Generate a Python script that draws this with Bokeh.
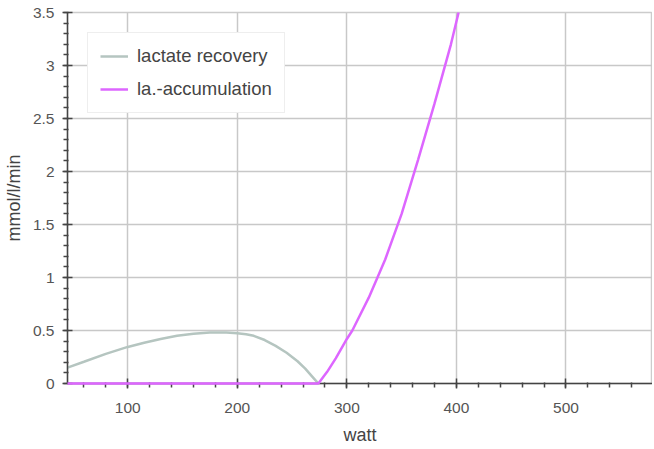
from bokeh.plotting import figure
from bokeh.models import SingleIntervalTicker, CustomJSTickFormatter, Range1d, Legend, LegendItem
from bokeh.embed import file_html
from bokeh.resources import INLINE

# data
rec_watt = [45, 60, 80, 100, 115, 130, 145, 160, 175, 190, 200, 208, 215, 225, 235, 245, 255, 262, 268, 274]
rec_val = [0.15, 0.205, 0.28, 0.345, 0.385, 0.42, 0.45, 0.47, 0.48, 0.48, 0.475, 0.465, 0.45, 0.41,
           0.355, 0.29, 0.21, 0.14, 0.07, 0.0]
acc_watt = [45, 274, 282, 290, 300, 305, 320, 335, 350, 365, 380, 395, 402]
acc_val = [0.0, 0.0, 0.11, 0.24, 0.42, 0.5, 0.81, 1.17, 1.6, 2.11, 2.64, 3.2, 3.5]
x_label = "watt"
y_label = "mmol/l/min"
series_names = ["lactate recovery", "la.-accumulation"]

FONT = "Liberation Sans"

p = figure(width=652, height=447, output_backend="svg", toolbar_location=None,
           x_range=Range1d(45, 579), y_range=Range1d(0, 3.5),
           min_border_left=66, min_border_right=0, min_border_top=12, min_border_bottom=10)

p.outline_line_color = "#cccccc"
p.outline_line_width = 1.5

r1 = p.line(rec_watt, rec_val, line_color="#b5c5c0", line_width=2.5)
r2 = p.line(acc_watt, acc_val, line_color="#dd66ff", line_width=2.5)
r2.level = "overlay"

for ax, iv in ((p.xaxis[0], 100), (p.yaxis[0], 0.5)):
    ax.ticker = SingleIntervalTicker(interval=iv, num_minor_ticks=5)
    ax.axis_line_color = "#444444"
    ax.axis_line_width = 1.5
    ax.major_tick_line_color = "#444444"
    ax.major_tick_line_width = 1.5
    ax.minor_tick_line_color = "#444444"
    ax.minor_tick_line_width = 1.5
    ax.major_tick_in = 5
    ax.major_tick_out = 5
    ax.minor_tick_in = 1
    ax.minor_tick_out = 4
    ax.major_label_text_font = FONT
    ax.major_label_text_font_size = "15.5px"
    ax.major_label_text_color = "#555555"
    ax.axis_label_text_font = FONT
    ax.axis_label_text_font_size = "18px"
    ax.axis_label_text_font_style = "normal"
    ax.axis_label_text_color = "#444444"
    ax.formatter = CustomJSTickFormatter(code="return String(tick);")

p.xaxis[0].axis_label = x_label
p.yaxis[0].axis_label = y_label
p.xaxis[0].major_label_standoff = 14
p.xaxis[0].axis_label_standoff = 9
p.yaxis[0].major_label_standoff = 8
p.yaxis[0].axis_label_standoff = 6

for g in (p.xgrid[0], p.ygrid[0]):
    g.grid_line_color = "#c8c8c8"
    g.grid_line_width = 1.5
p.xgrid[0].ticker = p.xaxis[0].ticker
p.ygrid[0].ticker = p.yaxis[0].ticker

legend = Legend(items=[LegendItem(label=series_names[0], renderers=[r1]),
                       LegendItem(label=series_names[1], renderers=[r2])],
                location="top_left", margin=20, padding=12, spacing=11,
                glyph_width=28, glyph_height=22, label_height=22, label_standoff=9,
                label_text_font=FONT, label_text_font_size="18.5px", label_text_color="#444444",
                border_line_color="#dddddd", border_line_width=1.5,
                background_fill_color="white", background_fill_alpha=1.0)
p.add_layout(legend)

open("out.html", "w").write(file_html(p, INLINE))
